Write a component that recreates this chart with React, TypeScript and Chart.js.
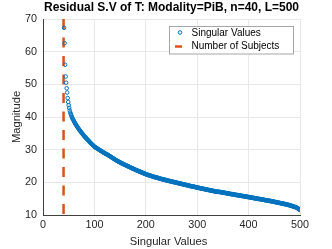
import React, { useEffect, useRef } from "react";
import { Chart, registerables } from "chart.js";

Chart.register(...registerables);

const TITLE = "Residual S.V of T: Modality=PiB, n=40, L=500";
const X_LABEL = "Singular Values";
const Y_LABEL = "Magnitude";
const SERIES_NAMES = ["Singular Values", "Number of Subjects"];
const FIRST_INDEX = 41;
const N_SUBJECTS = 40;
const X_TICKS = [0, 100, 200, 300, 400, 500];
const Y_TICKS = [10, 20, 30, 40, 50, 60, 70];

const singularValues: number[] = [
  67.3, 62.6, 56.0, 52.4, 50.5, 48.8, 47.5, 45.8, 44.6, 43.6,
  42.8, 42.0, 41.4, 40.9, 40.5, 40.1, 39.7, 39.4, 39.1, 38.8,
  38.5, 38.2, 37.9, 37.7, 37.4, 37.2, 36.9, 36.7, 36.5, 36.2,
  36.0, 35.8, 35.6, 35.4, 35.2, 35.0, 34.8, 34.6, 34.4, 34.2,
  34.0, 33.9, 33.7, 33.5, 33.3, 33.2, 33.0, 32.8, 32.7, 32.5,
  32.3, 32.1, 32.0, 31.8, 31.7, 31.5, 31.4, 31.2, 31.1, 30.9,
  30.8, 30.7, 30.6, 30.5, 30.4, 30.3, 30.2, 30.1, 30.0, 29.9,
  29.8, 29.7, 29.6, 29.5, 29.4, 29.3, 29.2, 29.1, 29.0, 28.9,
  28.8, 28.7, 28.7, 28.6, 28.5, 28.4, 28.3, 28.2, 28.1, 28.0,
  27.9, 27.8, 27.7, 27.6, 27.5, 27.4, 27.3, 27.2, 27.1, 27.0,
  26.9, 26.8, 26.7, 26.6, 26.5, 26.4, 26.3, 26.3, 26.2, 26.1,
  26.0, 25.9, 25.8, 25.8, 25.7, 25.6, 25.5, 25.5, 25.4, 25.3,
  25.2, 25.2, 25.1, 25.0, 24.9, 24.9, 24.8, 24.7, 24.6, 24.6,
  24.5, 24.4, 24.3, 24.3, 24.2, 24.1, 24.1, 24.0, 23.9, 23.8,
  23.8, 23.7, 23.6, 23.6, 23.5, 23.4, 23.4, 23.3, 23.2, 23.2,
  23.1, 23.0, 23.0, 22.9, 22.8, 22.8, 22.7, 22.6, 22.6, 22.5,
  22.4, 22.4, 22.3, 22.3, 22.2, 22.2, 22.1, 22.1, 22.0, 22.0,
  21.9, 21.9, 21.8, 21.8, 21.7, 21.7, 21.6, 21.6, 21.5, 21.5,
  21.4, 21.4, 21.4, 21.3, 21.3, 21.2, 21.2, 21.1, 21.1, 21.0,
  21.0, 21.0, 20.9, 20.9, 20.8, 20.8, 20.8, 20.7, 20.7, 20.6,
  20.6, 20.6, 20.5, 20.5, 20.4, 20.4, 20.4, 20.3, 20.3, 20.3,
  20.2, 20.2, 20.1, 20.1, 20.1, 20.0, 20.0, 20.0, 19.9, 19.9,
  19.8, 19.8, 19.8, 19.7, 19.7, 19.7, 19.6, 19.6, 19.5, 19.5,
  19.5, 19.4, 19.4, 19.4, 19.3, 19.3, 19.2, 19.2, 19.2, 19.1,
  19.1, 19.1, 19.0, 19.0, 18.9, 18.9, 18.9, 18.8, 18.8, 18.8,
  18.7, 18.7, 18.7, 18.6, 18.6, 18.6, 18.5, 18.5, 18.4, 18.4,
  18.4, 18.3, 18.3, 18.3, 18.2, 18.2, 18.2, 18.1, 18.1, 18.1,
  18.0, 18.0, 18.0, 17.9, 17.9, 17.9, 17.8, 17.8, 17.8, 17.7,
  17.7, 17.7, 17.6, 17.6, 17.6, 17.5, 17.5, 17.5, 17.4, 17.4,
  17.4, 17.3, 17.3, 17.3, 17.2, 17.2, 17.2, 17.1, 17.1, 17.1,
  17.1, 17.1, 17.1, 17.0, 17.0, 17.0, 17.0, 16.9, 16.9, 16.9,
  16.8, 16.8, 16.8, 16.8, 16.7, 16.7, 16.7, 16.6, 16.6, 16.6,
  16.6, 16.5, 16.5, 16.5, 16.4, 16.4, 16.4, 16.4, 16.3, 16.3,
  16.3, 16.3, 16.2, 16.2, 16.2, 16.1, 16.1, 16.1, 16.1, 16.0,
  16.0, 16.0, 16.0, 15.9, 15.9, 15.9, 15.8, 15.8, 15.8, 15.8,
  15.7, 15.7, 15.7, 15.7, 15.6, 15.6, 15.6, 15.5, 15.5, 15.5,
  15.5, 15.4, 15.4, 15.4, 15.3, 15.3, 15.3, 15.3, 15.2, 15.2,
  15.2, 15.1, 15.1, 15.1, 15.1, 15.0, 15.0, 15.0, 14.9, 14.9,
  14.9, 14.9, 14.8, 14.8, 14.8, 14.7, 14.7, 14.7, 14.7, 14.6,
  14.6, 14.6, 14.5, 14.5, 14.5, 14.5, 14.4, 14.4, 14.4, 14.3,
  14.3, 14.3, 14.3, 14.2, 14.2, 14.2, 14.1, 14.1, 14.1, 14.0,
  14.0, 14.0, 13.9, 13.9, 13.9, 13.8, 13.8, 13.8, 13.7, 13.7,
  13.7, 13.6, 13.6, 13.6, 13.5, 13.5, 13.5, 13.4, 13.4, 13.4,
  13.3, 13.3, 13.3, 13.2, 13.2, 13.1, 13.1, 13.1, 13.0, 13.0,
  12.9, 12.9, 12.8, 12.8, 12.7, 12.7, 12.6, 12.6, 12.5, 12.5,
  12.4, 12.3, 12.3, 12.2, 12.1, 12.0, 11.9, 11.8, 11.7, 11.5,
];

const subjectLine: number[] = [70, 10];

const BLUE = "#0072BD";
const ORANGE = "#D95319";
const FONT = "'Liberation Sans', Arial, Helvetica, sans-serif";

const overlayPlugin = {
  id: "overlay",
  afterDraw(chart: any) {
    const { ctx, chartArea } = chart;
    const cx = (chartArea.left + chartArea.right) / 2;
    const cy = (chartArea.top + chartArea.bottom) / 2;
    ctx.save();
    // title
    ctx.fillStyle = "#000";
    ctx.font = `bold 12px ${FONT}`;
    ctx.textAlign = "center";
    ctx.textBaseline = "alphabetic";
    ctx.fillText(TITLE, cx, 11);
    // axis titles
    ctx.fillStyle = "#262626";
    ctx.font = `11.2px ${FONT}`;
    ctx.fillText(X_LABEL, cx - 3, 244.5);
    ctx.save();
    ctx.translate(19.5, cy);
    ctx.rotate(-Math.PI / 2);
    ctx.fillText(Y_LABEL, 0, 0);
    ctx.restore();
    // legend
    const lx = 169.5, ly = 26.5, lw = 124, lh = 27.5;
    ctx.fillStyle = "#fff";
    ctx.fillRect(lx, ly, lw, lh);
    ctx.strokeStyle = "#a6a6a6";
    ctx.lineWidth = 1;
    ctx.strokeRect(lx, ly, lw, lh);
    ctx.font = `10px ${FONT}`;
    ctx.textAlign = "left";
    ctx.textBaseline = "middle";
    ctx.fillStyle = "#000";
    ctx.fillText(SERIES_NAMES[0], 191.5, 33);
    ctx.fillText(SERIES_NAMES[1], 191.5, 46.5);
    ctx.beginPath();
    ctx.arc(180, 32.5, 1.8, 0, Math.PI * 2);
    ctx.strokeStyle = BLUE;
    ctx.lineWidth = 1;
    ctx.stroke();
    ctx.beginPath();
    ctx.moveTo(175, 46.5);
    ctx.lineTo(182, 46.5);
    ctx.strokeStyle = ORANGE;
    ctx.lineWidth = 2.5;
    ctx.stroke();
    ctx.restore();
  },
};

export default function App() {
  const ref = useRef<HTMLCanvasElement | null>(null);
  useEffect(() => {
    if (!ref.current) return;
    const chart = new Chart(ref.current, {
      type: "scatter",
      data: {
        datasets: [
          {
            label: SERIES_NAMES[0],
            data: singularValues.map((v, i) => ({ x: FIRST_INDEX + i, y: v })),
            borderColor: BLUE,
            backgroundColor: "rgba(0,0,0,0)",
            pointRadius: 1.8,
            borderWidth: 1,
            pointHoverRadius: 1.8,
          },
          {
            type: "line",
            label: SERIES_NAMES[1],
            data: subjectLine.map((v) => ({ x: N_SUBJECTS, y: v })),
            borderColor: ORANGE,
            backgroundColor: ORANGE,
            borderWidth: 2.5,
            borderDash: [10, 8.5],
            pointRadius: 0,
            showLine: true,
            fill: false,
          } as any,
        ],
      },
      options: {
        animation: false,
        responsive: false,
        maintainAspectRatio: false,
        events: [],
        layout: { padding: { left: 0, right: 32, top: 19, bottom: 0 } },
        plugins: {
          legend: { display: false },
          title: { display: false },
          tooltip: { enabled: false },
        },
        scales: {
          x: {
            type: "linear",
            min: 0,
            max: 500,
            afterFit(scale: any) {
              scale.height = 34;
            },
            afterBuildTicks(scale: any) {
              scale.ticks = X_TICKS.map((v) => ({ value: v }));
            },
            ticks: {
              padding: 4,
              color: "#262626",
              font: { family: FONT, size: 10.8 },
              maxRotation: 0,
            },
            grid: { color: "#e8e8e8", drawTicks: false, lineWidth: 1 },
            border: { color: "#404040", width: 1 },
          },
          y: {
            type: "linear",
            min: 10,
            max: 70,
            afterFit(scale: any) {
              scale.width = 43;
            },
            afterBuildTicks(scale: any) {
              scale.ticks = Y_TICKS.map((v) => ({ value: v }));
            },
            ticks: {
              padding: 6,
              color: "#262626",
              font: { family: FONT, size: 10.8 },
            },
            grid: { color: "#e8e8e8", drawTicks: false, lineWidth: 1 },
            border: { color: "#404040", width: 1 },
          },
        },
      },
      plugins: [overlayPlugin],
    });
    return () => chart.destroy();
  }, []);
  return (
    <div style={{ position: "absolute", left: 0, top: 0, width: 332, height: 249, background: "#fff" }}>
      <canvas ref={ref} width={332} height={249} style={{ width: 332, height: 249 }} />
    </div>
  );
}
